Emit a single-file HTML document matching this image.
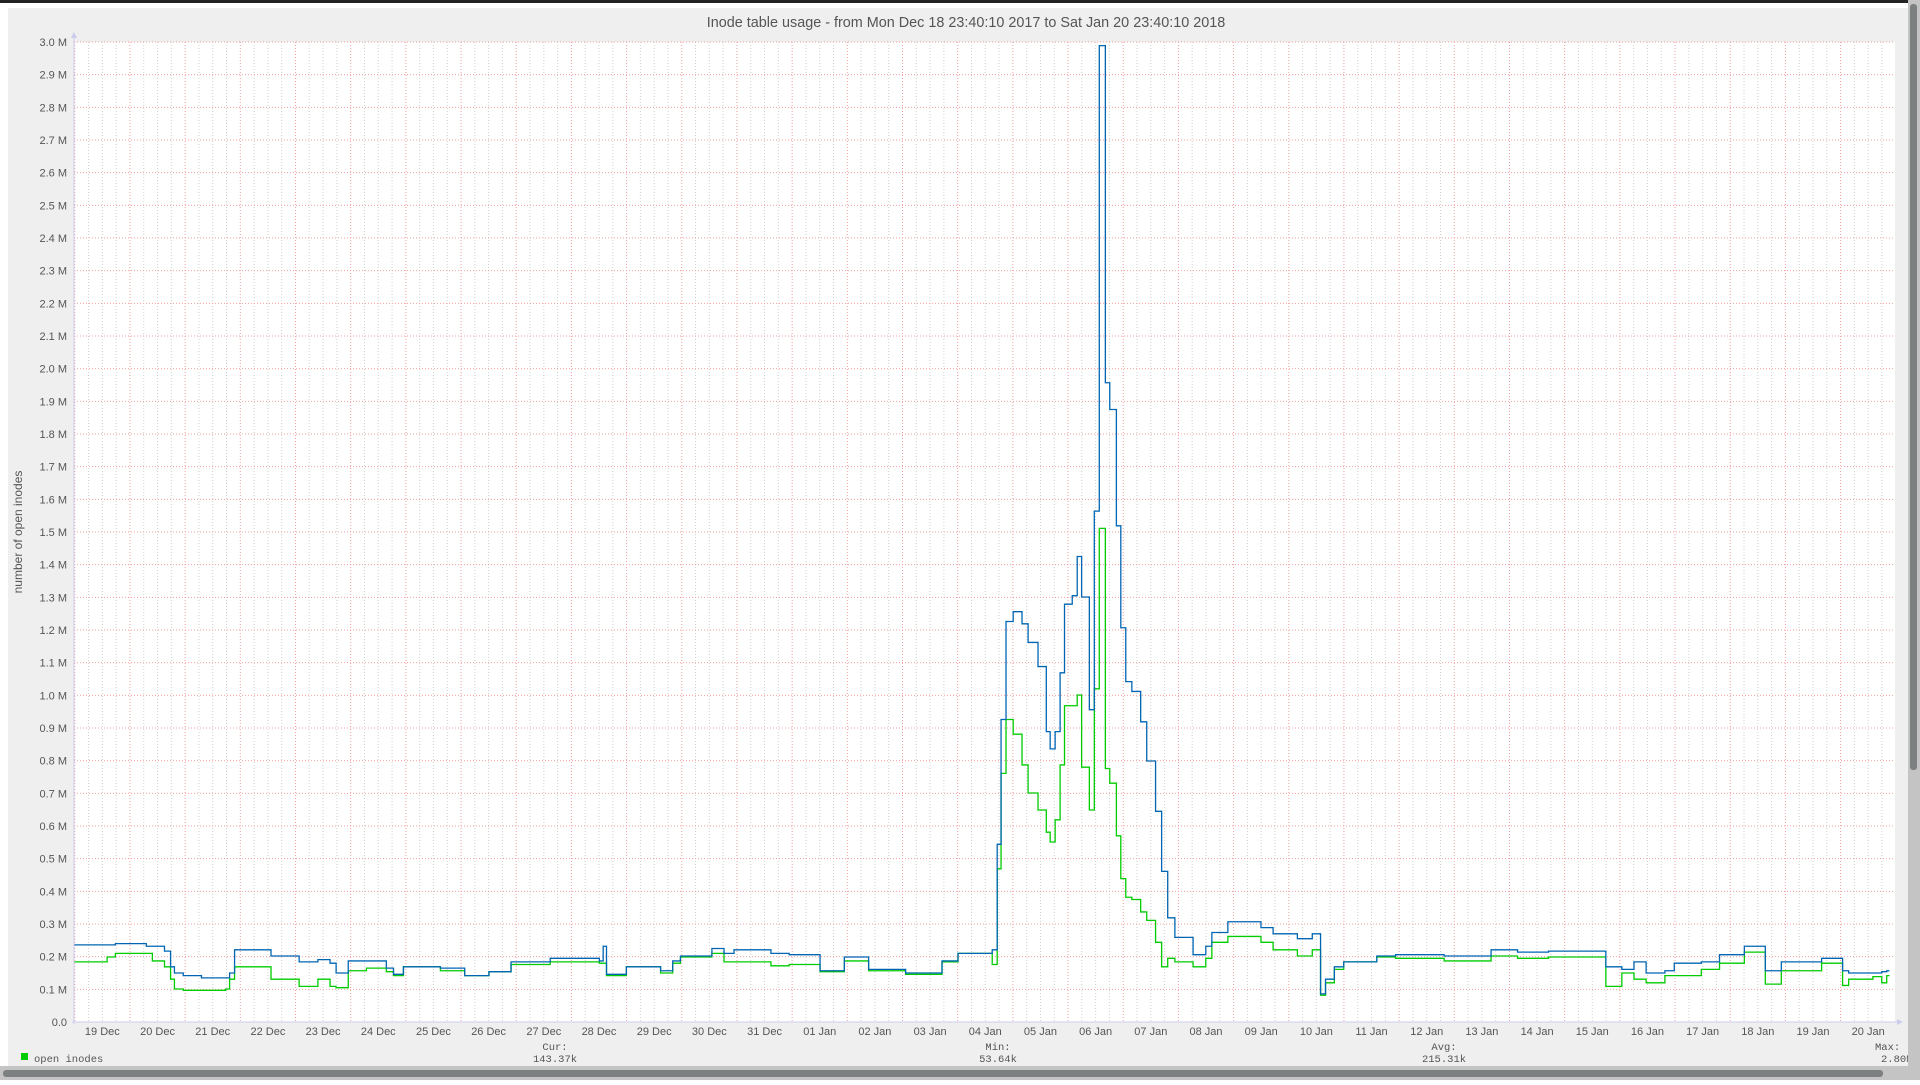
<!DOCTYPE html>
<html><head><meta charset="utf-8"><title>Inode table usage</title>
<style>
html,body{margin:0;padding:0;width:1920px;height:1080px;overflow:hidden;background:#fff;font-family:"Liberation Sans",sans-serif;}
#frame{position:absolute;left:0;top:0;width:1920px;height:1080px;}
</style></head>
<body>
<div id="frame">
<svg id="chart" width="1920" height="1080" xmlns="http://www.w3.org/2000/svg">
  <rect x="0" y="0" width="1920" height="1080" fill="#ffffff"/>
  <rect x="0" y="0" width="1920" height="3" fill="#222"/>
  <rect x="8" y="8" width="1900" height="1060" fill="#efefef"/>
  <rect x="74" y="42" width="1821" height="980" fill="#ffffff"/>
  <g id="grid"></g>
  <g id="series"></g>
  <g id="axes"></g>
  <text x="966" y="27" text-anchor="middle" font-size="14.4" fill="#555" font-family="Liberation Sans, sans-serif">Inode table usage - from Mon Dec 18 23:40:10 2017 to Sat Jan 20 23:40:10 2018</text>
  <text x="0" y="0" transform="translate(22,532) rotate(-90)" text-anchor="middle" font-size="12" fill="#555">number of open inodes</text>
  <g font-family="Liberation Mono, monospace" font-size="10.5" fill="#555">
    <rect x="21" y="1053" width="7" height="7" fill="#00cc00"/>
    <text x="34" y="1062">open inodes</text>
    <text x="34" y="1074">inode table size</text>
    <text x="555" y="1050" text-anchor="middle">Cur:</text>
    <text x="555" y="1062" text-anchor="middle">143.37k</text>
    <text x="555" y="1074" text-anchor="middle">237.87k</text>
    <text x="998" y="1050" text-anchor="middle">Min:</text>
    <text x="998" y="1062" text-anchor="middle">53.64k</text>
    <text x="998" y="1074" text-anchor="middle">80.19k</text>
    <text x="1444" y="1050" text-anchor="middle">Avg:</text>
    <text x="1444" y="1062" text-anchor="middle">215.31k</text>
    <text x="1444" y="1074" text-anchor="middle">293.72k</text>
    <text x="1875" y="1050">Max:</text>
    <text x="1881" y="1062">2.80M</text>
  </g>
  <rect x="1908" y="0" width="12" height="1080" fill="#c4c4c4"/>
  <rect x="1910" y="4" width="7" height="766" rx="3" fill="#7c8080"/>
  <rect x="0" y="1066" width="1908" height="14" fill="#c4c4c4"/>
  <rect x="3" y="1070" width="1880" height="7" rx="3" fill="#7c8080"/>
</svg>
</div>
<script>
// elapsed days since Dec 18 23:40:10 (each point starts a step)
const days = [0,0.53,0.60,0.75,1.31,1.42,1.64,1.75,1.82,1.98,2.31,2.75,2.82,2.91,3.57,4.08,4.42,4.64,4.75,4.97,5.30,5.66,5.79,5.97,6.64,7.08,7.52,7.92,8.63,9.52,9.59,9.65,10.01,10.63,10.85,10.99,11.56,11.78,11.96,12.63,12.96,13.52,13.96,14.40,15.07,15.73,16.02,16.64,16.73,16.80,16.89,17.02,17.18,17.29,17.47,17.62,17.69,17.78,17.87,17.95,18.09,18.18,18.26,18.40,18.49,18.58,18.69,18.77,18.89,18.97,19.06,19.17,19.33,19.44,19.60,19.71,19.82,19.95,20.28,20.51,20.62,20.91,21.51,21.73,22.17,22.44,22.59,22.68,22.84,23.01,23.61,23.95,24.83,25.68,26.16,26.72,27.61,27.76,28.05,28.27,28.49,28.83,29.00,29.49,29.82,30.27,30.65,30.94,31.67,32.05,32.16,32.60,32.76,32.85];
// inode table size (k)
const tableSize = [236,236,236,240,232,232,217,169,150,142,135,135,150,221,202,184,191,180,150,187,187,165,146,169,165,142,154,184,195,187,232,146,169,157,187,202,225,210,221,210,206,157,199,161,150,187,210,221,544,926,1226,1256,1219,1162,1088,889,836,889,1069,1279,1305,1425,1301,956,1564,2989,1957,1875,1519,1207,1042,1012,919,799,645,461,319,259,206,232,274,307,289,270,255,270,86,131,169,184,202,206,202,221,214,217,217,169,161,184,150,157,180,184,206,232,157,184,195,157,150,150,154,157];
// open inodes (k)
const openInodes = [184,184,199,210,210,187,169,131,101,97,97,101,131,169,131,109,131,109,105,157,165,154,142,169,157,142,154,176,184,180,180,142,169,150,180,199,210,184,184,172,176,154,187,157,146,184,210,176,469,761,926,881,787,701,649,581,551,619,787,968,968,1001,780,649,1020,1511,776,731,570,439,382,375,337,311,244,169,195,184,169,195,244,262,244,221,202,221,82,120,161,184,199,195,187,202,195,199,199,109,150,131,120,142,142,161,180,214,116,157,180,112,131,139,120,142];
const yTicks = [0,0.1,0.2,0.3,0.4,0.5,0.6,0.7,0.8,0.9,1.0,1.1,1.2,1.3,1.4,1.5,1.6,1.7,1.8,1.9,2.0,2.1,2.2,2.3,2.4,2.5,2.6,2.7,2.8,2.9,3.0];
const xLabels = ["19 Dec","20 Dec","21 Dec","22 Dec","23 Dec","24 Dec","25 Dec","26 Dec","27 Dec","28 Dec","29 Dec","30 Dec","31 Dec","01 Jan","02 Jan","03 Jan","04 Jan","05 Jan","06 Jan","07 Jan","08 Jan","09 Jan","10 Jan","11 Jan","12 Jan","13 Jan","14 Jan","15 Jan","16 Jan","17 Jan","18 Jan","19 Jan","20 Jan"];

const NS="http://www.w3.org/2000/svg";
const L=74,R=1895,T=42,B=1022,SPAN=33,VMAX=3000;
const xs=d=>L+(d/SPAN)*(R-L);
const ys=v=>B-(v/VMAX)*(B-T);
const OFF=20/1440;
function mk(tag,attrs){const e=document.createElementNS(NS,tag);for(const k in attrs)e.setAttribute(k,attrs[k]);return e;}
const grid=document.getElementById('grid'),axes=document.getElementById('axes'),series=document.getElementById('series');
for(let i=0;i<=33*4;i++){
  const d=OFF+i*0.25; if(d>SPAN)break;
  const x=xs(d); const major=i%4===0;
  const ln=mk('line',{x1:x,x2:x,y1:T,y2:B,stroke:major?'#f0a0a0':'#d0d0d0','stroke-width':1,'stroke-dasharray':'1,2'});
  
  
  grid.appendChild(ln);
}
yTicks.forEach(t=>{
  const y=ys(t*1000);
  const ln=mk('line',{x1:L,x2:R,y1:y,y2:y,stroke:'#f0a0a0','stroke-width':1,'stroke-dasharray':'1,2'});
  
  
  grid.appendChild(ln);
  const tx=mk('text',{x:67,y:y+4,'text-anchor':'end','font-size':11,fill:'#555'});
  tx.textContent=t===0?'0.0':t.toFixed(1)+' M';
  
  
  axes.appendChild(tx);
});
xLabels.forEach((lab,i)=>{
  const tx=mk('text',{x:xs(OFF+i+0.5),y:1035,'text-anchor':'middle','font-size':11,fill:'#555'});
  tx.textContent=lab;
  
  
  axes.appendChild(tx);
});
const ax1=mk('line',{x1:L,x2:L,y1:T-6,y2:B+2,stroke:'#ccccee','stroke-width':1});


axes.appendChild(ax1);
const ax2=mk('line',{x1:L-2,x2:R+4,y1:B,y2:B,stroke:'#ccccee','stroke-width':1});


axes.appendChild(ax2);
const ar1=mk('path',{d:`M${L-3},${T-4} L${L+3},${T-4} L${L},${T-10} Z`,fill:'#ccccee'});


axes.appendChild(ar1);
const ar2=mk('path',{d:`M${R+2},${B-3} L${R+2},${B+3} L${R+8},${B} Z`,fill:'#ccccee'});


axes.appendChild(ar2);
function stepPath(vals){
  let d='';
  for(let i=0;i<days.length;i++){
    const x0=xs(days[i]),x1=xs(i+1<days.length?days[i+1]:SPAN-0.1),y=ys(vals[i]);
    d+=(i===0?`M${x0},${y}`:`L${x0},${y}`)+`L${x1},${y}`;
  }
  return d;
}
const pg=mk('path',{d:stepPath(openInodes),fill:'none',stroke:'#00cc00','stroke-width':1.3});


series.appendChild(pg);
const pb=mk('path',{d:stepPath(tableSize),fill:'none',stroke:'#0066b3','stroke-width':1.3});


series.appendChild(pb);
</script>
</body></html>
